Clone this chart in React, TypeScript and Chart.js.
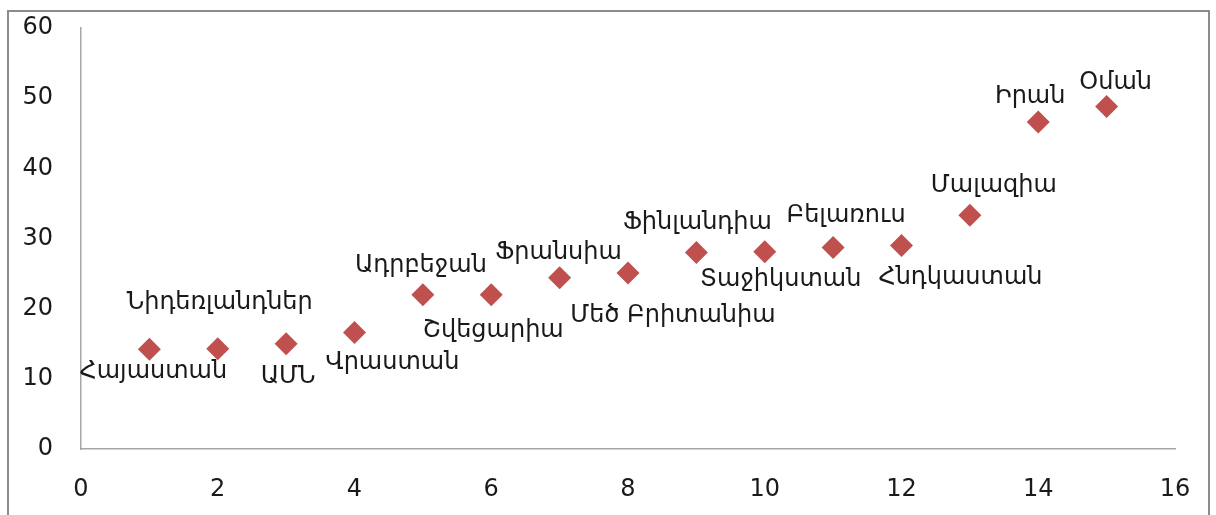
import React, { useEffect, useRef } from "react";
import { Chart, registerables } from "chart.js";

Chart.register(...registerables);

const countryIndex = [1, 2, 3, 4, 5, 6, 7, 8, 9, 10, 11, 12, 13, 14, 15];
const values = [14.2, 14.3, 15.0, 16.6, 22.0, 22.0, 24.4, 25.1, 28.0, 28.1, 28.7, 29.0, 33.3, 46.6, 48.8];
const countries = [
  "Հայաստան",
  "Նիդեռլանդներ",
  "ԱՄՆ",
  "Վրաստան",
  "Ադրբեջան",
  "Շվեցարիա",
  "Ֆրանսիա",
  "Մեծ Բրիտանիա",
  "Ֆինլանդիա",
  "Տաջիկստան",
  "Բելառուս",
  "Հնդկաստան",
  "Մալազիա",
  "Իրան",
  "Օման",
];
const xTicks = [0, 2, 4, 6, 8, 10, 12, 14, 16];
const yTicks = [0, 10, 20, 30, 40, 50, 60];

// label placement offsets (pixels) relative to each marker: [dx, dy]
const LABEL_OFFSETS: [number, number][] = [
  [4, 22],
  [2, -46],
  [2, 33],
  [38, 30],
  [-2, -29],
  [2, 36],
  [-1, -25],
  [45, 43],
  [1, -30],
  [16, 28],
  [13, -32],
  [59, 32],
  [24, -30],
  [-8, -25],
  [9, -24],
];

const labelPlugin = {
  id: "pointLabels",
  afterDatasetsDraw(chart: any) {
    const ctx = chart.ctx;
    const meta = chart.getDatasetMeta(0);
    ctx.save();
    ctx.font = '24px "DejaVu Sans"';
    ctx.fillStyle = "#1a1a1a";
    ctx.textAlign = "center";
    ctx.textBaseline = "middle";
    meta.data.forEach((pt: any, i: number) => {
      const [dx, dy] = LABEL_OFFSETS[i] || [0, -25];
      ctx.fillText(countries[i], pt.x + dx, pt.y + dy);
    });
    ctx.restore();
  },
};

export default function App() {
  const ref = useRef<HTMLCanvasElement | null>(null);
  useEffect(() => {
    if (!ref.current) return;
    const chart = new Chart(ref.current, {
      type: "scatter",
      data: {
        datasets: [
          {
            data: countryIndex.map((x, i) => ({ x, y: values[i] })),
            pointStyle: "rectRot",
            pointRadius: 11.5,
            pointHoverRadius: 11.5,
            backgroundColor: "#C0504D",
            borderColor: "#C0504D",
            borderWidth: 0,
          },
        ],
      },
      options: {
        animation: false,
        responsive: false,
        events: [],
        layout: { padding: { top: 16, right: 33, bottom: 0, left: 0 } },
        plugins: { legend: { display: false }, tooltip: { enabled: false } },
        scales: {
          x: {
            type: "linear",
            min: 0,
            max: 16,
            afterBuildTicks: (s: any) => {
              s.ticks = xTicks.map((v) => ({ value: v }));
            },
            afterFit: (s: any) => {
              s.height = 66;
              s.paddingLeft = 0;
              s.paddingRight = 0;
            },
            grid: { display: false, drawTicks: false },
            border: { display: true, color: "#a6a6a6", width: 1.5 },
            ticks: {
              padding: 26,
              color: "#1a1a1a",
              font: { family: "DejaVu Sans", size: 24 },
            },
          },
          y: {
            type: "linear",
            min: 0,
            max: 60,
            afterBuildTicks: (s: any) => {
              s.ticks = yTicks.map((v) => ({ value: v }));
            },
            afterFit: (s: any) => {
              s.width = 72;
              s.paddingTop = 0;
              s.paddingBottom = 0;
            },
            grid: { display: false, drawTicks: false },
            border: { display: true, color: "#a6a6a6", width: 1.5 },
            ticks: {
              padding: 28,
              color: "#1a1a1a",
              font: { family: "DejaVu Sans", size: 24 },
            },
          },
        },
      },
      plugins: [labelPlugin],
    });
    return () => chart.destroy();
  }, []);

  return (
    <div
      style={{
        position: "absolute",
        left: 7,
        top: 10,
        width: 1203,
        height: 505,
        boxSizing: "border-box",
        borderTop: "2px solid #8c8c8c",
        borderLeft: "2px solid #8c8c8c",
        borderRight: "2px solid #8c8c8c",
        background: "#fff",
        overflow: "hidden",
      }}
    >
      <canvas ref={ref} width={1199} height={503} style={{ display: "block" }} />
    </div>
  );
}
